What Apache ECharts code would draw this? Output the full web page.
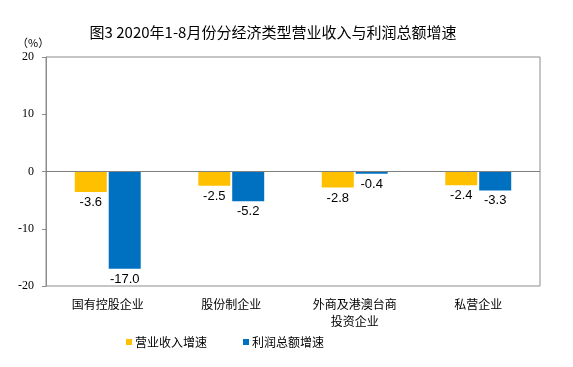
<!DOCTYPE html>
<html><head><meta charset="utf-8">
<script src="https://cdn.jsdelivr.net/npm/echarts@6/dist/echarts.min.js"></script>
<style>html,body{margin:0;padding:0;background:#fff}#c{width:573px;height:367px}</style>
</head><body><div id="c"></div>
<script>
var categories = ['国有控股企业', '股份制企业', '外商及港澳台商\n投资企业', '私营企业'];
var revenueGrowth = [-3.6, -2.5, -2.8, -2.4];
var profitGrowth = [-17.0, -5.2, -0.4, -3.3];
var seriesNames = ['营业收入增速', '利润总额增速'];
var yTicks = [-20, -10, 0, 10, 20];

var chart = echarts.init(document.getElementById('c'));
var lbl = {show: true, position: 'bottom', distance: 4, color: '#000', fontSize: 13,
  fontFamily: 'Liberation Sans, Arial, sans-serif', formatter: function(p){return p.value.toFixed(1);}};
chart.setOption({
  animation: false,
  title: {text: '图3 2020年1-8月份分经济类型营业收入与利润总额增速', left: 268, textAlign: 'center', top: 20,
    textStyle: {fontSize: 15, fontWeight: 'normal', color: '#000', fontFamily: 'Noto Sans CJK SC'}},
  graphic: [{type: 'text', left: 17, top: 37, style: {text: '（%）', fontSize: 11, fill: '#000', fontFamily: 'Noto Sans CJK SC'}}],
  legend: {data: seriesNames, left: 121, top: 331, icon: 'rect', itemWidth: 6, itemHeight: 6, itemGap: 36,
    textStyle: {fontSize: 12, color: '#000', fontFamily: 'Noto Sans CJK SC', padding: [0,0,0,-2]}},
  grid: {left: 46, right: 33, top: 57, bottom: 81, show: true, borderColor: '#8c8c8c', borderWidth: 1},
  xAxis: {type: 'category', data: categories, axisLine: {show: false, onZero: false}, axisTick: {show: false},
    axisLabel: {color: '#000', fontSize: 12, margin: 10, lineHeight: 17, fontFamily: 'Noto Sans CJK SC'}},
  yAxis: {type: 'value', min: yTicks[0], max: yTicks[yTicks.length-1], interval: 10,
    axisLine: {show: true, lineStyle: {color: '#8c8c8c'}},
    axisTick: {show: true, length: 4, lineStyle: {color: '#8c8c8c'}},
    splitLine: {show: false},
    axisLabel: {color: '#000', fontSize: 12, margin: 12, fontFamily: 'Liberation Serif, Times New Roman, serif'}},
  series: [
    {name: seriesNames[0], type: 'bar', data: revenueGrowth, barWidth: 32, barGap: '6%',
     itemStyle: {color: '#FFC000'}, label: lbl,
     markLine: {silent: true, symbol: 'none', label: {show: false}, lineStyle: {color: '#808080', type: 'solid', width: 1},
       data: [{yAxis: 0}]}},
    {name: seriesNames[1], type: 'bar', data: profitGrowth, barWidth: 32,
     itemStyle: {color: '#0070C0'}, label: lbl}
  ]
});
</script></body></html>
